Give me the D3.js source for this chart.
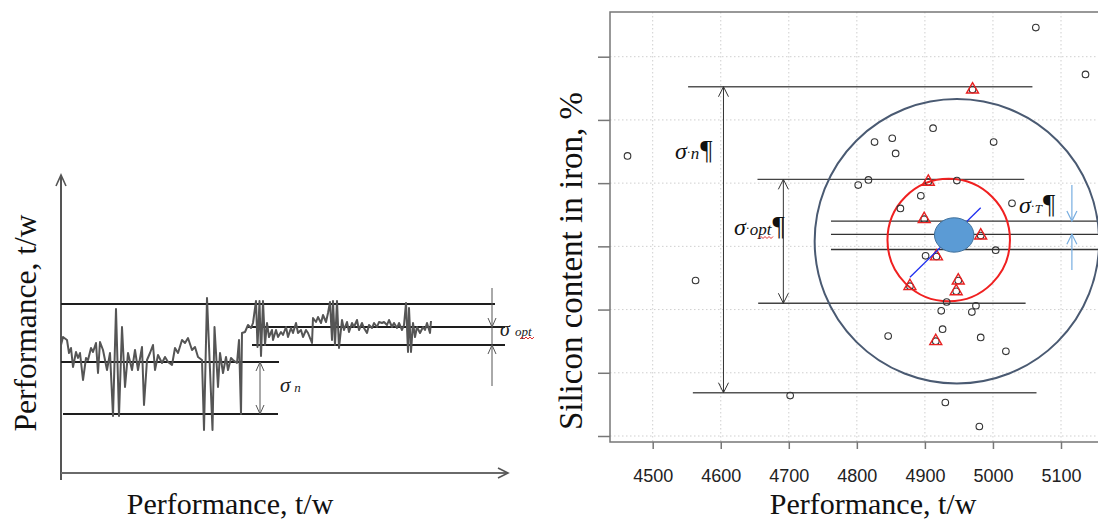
<!DOCTYPE html>
<html>
<head>
<meta charset="utf-8">
<script src="https://cdn.jsdelivr.net/npm/d3@7"></script>
<style>
  html, body { margin: 0; padding: 0; background: #fff; }
  svg { display: block; }
</style>
</head>
<body>
<svg id="chart" width="1098" height="523"></svg>
<script>
// ---------- left panel: performance over time ----------
// [time, performance] in the drawing's own units
const leftSeries = [
  [0,128],[2,136],[6,133],[8,120],[10,125],[12,106],[15,121],[17,115],[19,120],[22,93],
  [25,115],[27,113],[30,125],[32,121],[35,130],[37,100],[39,131],[42,123],[46,103],[49,120],
  [52,57],[55,164],[58,57],[61,146],[64,86],[67,120],[71,103],[74,123],[77,103],[81,126],
  [83,68],[86,113],[89,120],[92,128],[94,103],[97,118],[101,110],[104,116],[107,111],[111,108],
  [114,125],[117,120],[121,133],[124,130],[127,135],[131,123],[134,126],[137,116],[141,113],[143,43],
  [146,175],[151.5,43],[153.5,146],[157,86],[159,120],[162,100],[165,116],[167,103],[170,115],[172,113],
  [176,110],[178,133],[180,59],[181,140],[184,141],[187,148],[190,145],[192,150],[195,172],[196.5,126],
  [198.5,172],[200,117],[202,172],[204,128],[206,150],[208,136],[211,143],[212,133],[215,143],[217,136],
  [220,141],[222,138],[225,146],[227,136],[230,145],[232,140],[235,150],[237,140],[240,143],[242,136],
  [245,143],[247,140],[251,130],[252,155],[255,151],[257,156],[260,150],[262,158],[265,151],[267,160],
  [269,171],[271,133],[272,172],[274,128],[276,172],[278,125],[281,153],[283,143],[286,151],[288,141],
  [291,150],[293,146],[296,153],[298,143],[301,150],[303,145],[306,140],[308,148],[311,145],[313,150],
  [316,146],[318,151],[321,150],[323,151],[326,148],[328,153],[331,146],[333,150],[336,145],[338,150],
  [341,143],[343,148],[345,170],[347,121],[348,165],[350,121],[352,150],[354,136],[356,146],[359,140],
  [362,146],[364,143],[366,150],[369,140],[370,152]
];
// horizontal reference levels: [level, from, to]
const leftLevels = [[169, 0, 434], [146, 186, 444], [128, 191, 444], [111, 0, 218], [59, 2, 217]];
const sigmaNLeft = { t: 199, top: 111, bottom: 59 };
const sigmaOptLeft = { t: 431, top: 146, bottom: 128, from: 185, to: 87 };

// ---------- right panel: silicon content vs performance ----------
const xTicks = [4500, 4600, 4700, 4800, 4900, 5000, 5100];
const yTicks = [0.3, 0.4, 0.5, 0.6, 0.7, 0.8, 0.9];
const circlePts = [
  [5063,0.946],[5136,0.872],[4463,0.743],[4912,0.787],[4826,0.765],[4852,0.771],[4857,0.747],
  [5001,0.765],[4802,0.697],[4817,0.705],[4947,0.704],[4894,0.680],[4864,0.660],[5028,0.668],
  [5004,0.594],[4901,0.585],[4563,0.546],[4932,0.512],[4975,0.506],[4924,0.498],[4969,0.496],
  [4926,0.469],[4846,0.458],[4982,0.456],[5019,0.434],[4702,0.364],[4930,0.353],[4980,0.315]
];
const trianglePts = [
  [4970,0.848],[4905,0.702],[4899,0.643],[4982,0.617],[4917,0.584],
  [4878,0.537],[4949,0.546],[4946,0.529],[4916,0.450]
];
const outerCircle = { x: 4947, y: 0.608, r: 209 };   // r in performance units
const innerCircle = { x: 4935, y: 0.610, r: 90 };
const centerBlob = { x: 4943, y: 0.618, rx: 29, ry: 0.0272 };
const trendLine = [[4878, 0.551], [4982, 0.661]];
// sigma bands: [level, from, to]
const sigmaNRight = [[0.8525, 4552, 5058], [0.3685, 4559, 5064]];
const sigmaOptRight = [[0.706, 4654, 5046], [0.510, 4655, 5048]];
const sigmaTRight = [[0.640, 4762, 5250], [0.619, 4762, 5250], [0.595, 4762, 5250]];

const svg = d3.select('#chart');
const serif = '"Liberation Serif", "Times New Roman", serif';
const sans = '"Liberation Sans", Arial, sans-serif';

function arrowHead(g, x, y, dir, w, h, color, sw) {
  // dir = 1: points down, -1: points up
  g.append('path')
    .attr('d', `M${x - w},${y - dir * h}L${x},${y}L${x + w},${y - dir * h}`)
    .attr('fill', 'none').attr('stroke', color).attr('stroke-width', sw);
}

// ================= LEFT =================
const xL = d3.scaleLinear().domain([0, 450]).range([61, 511]);
const yL = d3.scaleLinear().domain([0, 298]).range([473, 175]);
const left = svg.append('g');

left.append('line')
  .attr('x1', xL(0)).attr('y1', yL(-7)).attr('x2', xL(0)).attr('y2', yL(298))
  .attr('stroke', '#555').attr('stroke-width', 2);
left.append('line')
  .attr('x1', xL(0)).attr('y1', yL(0)).attr('x2', xL(447)).attr('y2', yL(0))
  .attr('stroke', '#6a6a6a').attr('stroke-width', 2);
arrowHead(left, xL(0), yL(298), -1, 5, 11, '#555', 1.6);
left.append('path')
  .attr('d', `M${xL(437)},${yL(0) - 5}L${xL(447)},${yL(0)}L${xL(437)},${yL(0) + 5}`)
  .attr('fill', 'none').attr('stroke', '#555').attr('stroke-width', 1.6);

left.selectAll('line.level')
  .data(leftLevels)
  .enter().append('line')
  .attr('class', 'level')
  .attr('x1', d => xL(d[1])).attr('x2', d => xL(d[2]))
  .attr('y1', d => yL(d[0])).attr('y2', d => yL(d[0]))
  .attr('stroke', '#1e1e1e').attr('stroke-width', 2);

const line = d3.line().x(d => xL(d[0])).y(d => yL(d[1]));
left.append('path')
  .datum(leftSeries)
  .attr('d', line)
  .attr('fill', 'none')
  .attr('stroke', '#555')
  .attr('stroke-width', 2)
  .attr('stroke-linejoin', 'round');

// sigma n arrow (left)
left.append('line')
  .attr('x1', xL(sigmaNLeft.t)).attr('x2', xL(sigmaNLeft.t))
  .attr('y1', yL(sigmaNLeft.top)).attr('y2', yL(sigmaNLeft.bottom))
  .attr('stroke', '#555').attr('stroke-width', 1);
arrowHead(left, xL(sigmaNLeft.t), yL(sigmaNLeft.top), -1, 4, 9, '#555', 1);
arrowHead(left, xL(sigmaNLeft.t), yL(sigmaNLeft.bottom), 1, 4, 9, '#555', 1);

// sigma opt arrow (left)
left.append('line')
  .attr('x1', xL(sigmaOptLeft.t)).attr('x2', xL(sigmaOptLeft.t))
  .attr('y1', yL(sigmaOptLeft.from)).attr('y2', yL(sigmaOptLeft.to))
  .attr('stroke', '#555').attr('stroke-width', 1);
arrowHead(left, xL(sigmaOptLeft.t), yL(sigmaOptLeft.top), 1, 4, 9, '#555', 1);
arrowHead(left, xL(sigmaOptLeft.t), yL(sigmaOptLeft.bottom), -1, 4, 9, '#555', 1);

const sn = left.append('text').attr('x', 280).attr('y', 392).attr('font-family', serif).attr('fill', '#222');
sn.append('tspan').attr('font-size', 21).attr('font-style', 'italic').text('σ');
sn.append('tspan').attr('dx', 4).attr('font-size', 13).attr('font-style', 'italic').text('n');

const so = left.append('text').attr('x', 500).attr('y', 336).attr('font-family', serif).attr('fill', '#222');
so.append('tspan').attr('font-size', 20).attr('font-style', 'italic').text('σ');
so.append('tspan').attr('dx', 5).attr('font-size', 13).attr('font-style', 'italic').text('opt');
left.append('path').attr('d', 'M520,339l2,-2l2,2l2,-2l2,2l2,-2l2,2l2,-2')
  .attr('fill', 'none').attr('stroke', '#e03030').attr('stroke-width', 1);

left.append('text')
  .attr('x', 230).attr('y', 514)
  .attr('text-anchor', 'middle')
  .attr('font-family', serif).attr('font-size', 30).attr('fill', '#111')
  .text('Performance, t/w');
left.append('text')
  .attr('transform', 'translate(36,323) rotate(-90)')
  .attr('text-anchor', 'middle')
  .attr('font-family', serif).attr('font-size', 31.5).attr('fill', '#111')
  .text('Performance, t/w');

// ================= RIGHT =================
const xR = d3.scaleLinear().domain([4500, 5100]).range([652.7, 1061]);
const yR = d3.scaleLinear().domain([0.3, 0.9]).range([436, 56.7]);
const box = { left: 610, top: 12, bottom: 442, right: 1110 };
const right = svg.append('g');

right.append('clipPath').attr('id', 'plotClip')
  .append('rect').attr('x', box.left).attr('y', box.top)
  .attr('width', box.right - box.left).attr('height', box.bottom - box.top);

const grid = right.append('g').attr('stroke', '#cfcfcf').attr('stroke-width', 1).attr('stroke-dasharray', '1.5,2.5');
grid.selectAll('line.gx').data(xTicks).enter().append('line')
  .attr('x1', d => xR(d)).attr('x2', d => xR(d)).attr('y1', box.top).attr('y2', box.bottom);
grid.selectAll('line.gy').data(yTicks).enter().append('line')
  .attr('y1', d => yR(d)).attr('y2', d => yR(d)).attr('x1', box.left).attr('x2', box.right);

// frame
right.append('path')
  .attr('d', `M${box.right},${box.top}H${box.left}V${box.bottom}H${box.right}`)
  .attr('fill', 'none').attr('stroke', '#777').attr('stroke-width', 1.5);

const xAxis = right.append('g')
  .attr('transform', `translate(0,${box.bottom})`)
  .call(d3.axisBottom(xR).tickValues(xTicks).tickSize(7).tickPadding(20).tickFormat(d3.format('d')));
xAxis.select('.domain').remove();
xAxis.selectAll('line').attr('stroke', '#777').attr('stroke-width', 1.5);
xAxis.selectAll('text').attr('font-family', sans).attr('font-size', 18).attr('fill', '#222');

const yAxis = right.append('g')
  .attr('transform', `translate(${box.left},0)`)
  .call(d3.axisLeft(yR).tickValues(yTicks).tickSize(12).tickFormat(''));
yAxis.select('.domain').remove();
yAxis.selectAll('line').attr('stroke', '#777').attr('stroke-width', 1.5);

const plot = right.append('g').attr('clip-path', 'url(#plotClip)');

// sigma reference lines
const bandLine = (g, rows, color, sw) => g.selectAll(null).data(rows).enter().append('line')
  .attr('x1', d => xR(d[1])).attr('x2', d => xR(d[2]))
  .attr('y1', d => yR(d[0])).attr('y2', d => yR(d[0]))
  .attr('stroke', color).attr('stroke-width', sw);
bandLine(plot, sigmaNRight, '#555', 1.4);
bandLine(plot, sigmaOptRight, '#444', 1.3);
bandLine(plot, sigmaTRight, '#333', 1.3);

// sigma n arrow
const aNx = xR(4604);
plot.append('line').attr('x1', aNx).attr('x2', aNx)
  .attr('y1', yR(sigmaNRight[0][0])).attr('y2', yR(sigmaNRight[1][0]))
  .attr('stroke', '#333').attr('stroke-width', 1);
arrowHead(plot, aNx, yR(sigmaNRight[0][0]), -1, 5, 10, '#333', 1);
arrowHead(plot, aNx, yR(sigmaNRight[1][0]), 1, 5, 10, '#333', 1);

// sigma opt arrow
const aOx = xR(4692);
plot.append('line').attr('x1', aOx).attr('x2', aOx)
  .attr('y1', yR(sigmaOptRight[0][0])).attr('y2', yR(sigmaOptRight[1][0]))
  .attr('stroke', '#333').attr('stroke-width', 1);
arrowHead(plot, aOx, yR(sigmaOptRight[0][0]), -1, 5, 10, '#333', 1);
arrowHead(plot, aOx, yR(sigmaOptRight[1][0]), 1, 5, 10, '#333', 1);

// sigma T arrows (light blue)
const aTx = xR(5116);
plot.append('line').attr('x1', aTx).attr('x2', aTx)
  .attr('y1', yR(0.697)).attr('y2', yR(sigmaTRight[0][0]))
  .attr('stroke', '#78aee0').attr('stroke-width', 1.2);
arrowHead(plot, aTx, yR(sigmaTRight[0][0]), 1, 5, 10, '#78aee0', 1.2);
plot.append('line').attr('x1', aTx).attr('x2', aTx)
  .attr('y1', yR(0.5626)).attr('y2', yR(sigmaTRight[1][0]))
  .attr('stroke', '#78aee0').attr('stroke-width', 1.2);
arrowHead(plot, aTx, yR(sigmaTRight[1][0]), -1, 5, 10, '#78aee0', 1.2);

// big circles
const pxR = c => xR(c.x + c.r) - xR(c.x);
plot.append('circle')
  .attr('cx', xR(outerCircle.x)).attr('cy', yR(outerCircle.y)).attr('r', pxR(outerCircle))
  .attr('fill', 'none').attr('stroke', '#4a5a72').attr('stroke-width', 2);
plot.append('circle')
  .attr('cx', xR(innerCircle.x)).attr('cy', yR(innerCircle.y)).attr('r', pxR(innerCircle))
  .attr('fill', 'none').attr('stroke', '#f02020').attr('stroke-width', 2);

// points
plot.selectAll('circle.pt')
  .data(circlePts.concat(trianglePts))
  .enter().append('circle')
  .attr('class', 'pt')
  .attr('cx', d => xR(d[0])).attr('cy', d => yR(d[1])).attr('r', 3.3)
  .attr('fill', 'none').attr('stroke', '#333').attr('stroke-width', 1.1);
plot.selectAll('path.tri')
  .data(trianglePts)
  .enter().append('path')
  .attr('class', 'tri')
  .attr('transform', d => `translate(${xR(d[0])},${yR(d[1])})`)
  .attr('d', d3.symbol(d3.symbolTriangle, 62))
  .attr('fill', 'none').attr('stroke', '#e82020').attr('stroke-width', 1.4);

// trend line and centre blob
plot.append('path')
  .datum(trendLine)
  .attr('d', d3.line().x(d => xR(d[0])).y(d => yR(d[1])))
  .attr('stroke', '#1f2ff0').attr('stroke-width', 1.3).attr('fill', 'none');
plot.append('ellipse')
  .attr('cx', xR(centerBlob.x)).attr('cy', yR(centerBlob.y))
  .attr('rx', xR(centerBlob.x + centerBlob.rx) - xR(centerBlob.x))
  .attr('ry', yR(centerBlob.y - centerBlob.ry) - yR(centerBlob.y))
  .attr('fill', '#5b9bd5').attr('stroke', '#41719c').attr('stroke-width', 1);

// sigma labels
function sigmaLabel(x, y, sub, subSize) {
  const t = right.append('text').attr('x', x).attr('y', y).attr('font-family', serif).attr('fill', '#111');
  t.append('tspan').attr('font-size', 24).attr('font-style', 'italic').text('σ');
  t.append('tspan').attr('font-size', 12).attr('dy', -3).text('·');
  t.append('tspan').attr('font-size', subSize).attr('dy', 3).attr('font-style', 'italic').text(sub);
  t.append('tspan').attr('font-size', 27).attr('dx', 1).text('¶');
  return t;
}
sigmaLabel(675, 159, 'n', 17);
sigmaLabel(734, 235, 'opt', 17);
right.append('path').attr('d', 'M759,238.5l2,-2l2,2l2,-2l2,2l2,-2l2,2l2,-2')
  .attr('fill', 'none').attr('stroke', '#e03030').attr('stroke-width', 1);
sigmaLabel(1019, 213, 'T', 13);

right.append('text')
  .attr('x', 873).attr('y', 514)
  .attr('text-anchor', 'middle')
  .attr('font-family', serif).attr('font-size', 30).attr('fill', '#111')
  .text('Performance, t/w');
right.append('text')
  .attr('transform', 'translate(582,261) rotate(-90)')
  .attr('text-anchor', 'middle')
  .attr('font-family', serif).attr('font-size', 33).attr('fill', '#111')
  .text('Silicon content in iron, %');
</script>
</body>
</html>
